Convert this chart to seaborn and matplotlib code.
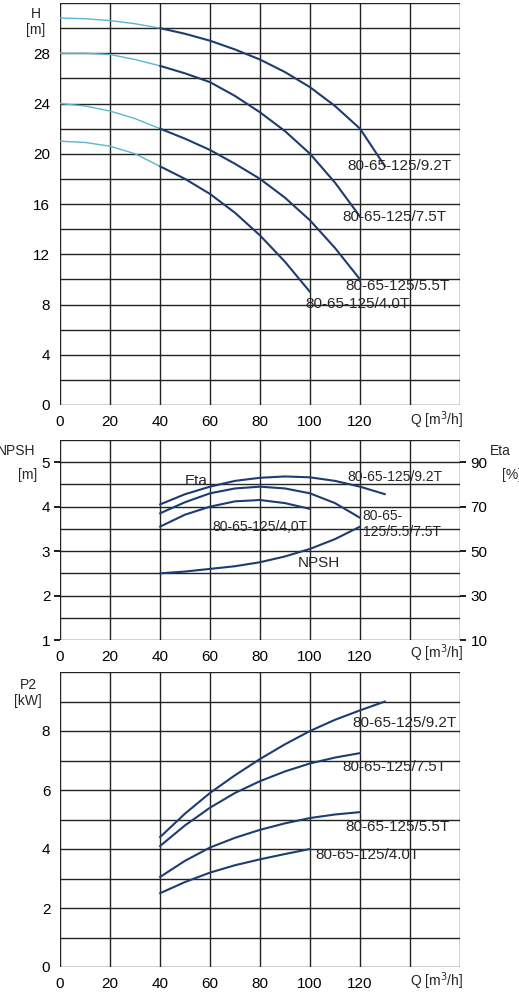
import matplotlib
matplotlib.use("Agg")
import matplotlib.pyplot as plt
import pandas as pd
import seaborn as sns

# Head curves H [m]
q_h = [0, 10, 20, 30, 40, 50, 60, 70, 80, 90, 100, 110, 120, 130]
h_92 = [30.8, 30.75, 30.6, 30.35, 30.0, 29.55, 29.0, 28.3, 27.5, 26.5, 25.3, 23.8, 22.0, 19.0]
q_h75 = [0, 10, 20, 30, 40, 50, 60, 70, 80, 90, 100, 110, 120]
h_75 = [28.0, 28.0, 27.9, 27.5, 27.0, 26.4, 25.7, 24.6, 23.3, 21.8, 20.0, 17.7, 15.0]
h_55 = [24.0, 23.8, 23.4, 22.8, 22.0, 21.2, 20.3, 19.2, 18.0, 16.5, 14.7, 12.5, 10.0]
q_h40 = [0, 10, 20, 30, 40, 50, 60, 70, 80, 90, 100]
h_40 = [21.0, 20.9, 20.6, 20.0, 19.0, 18.0, 16.8, 15.3, 13.5, 11.4, 9.0]

# Eta (on NPSH scale: eta = 10 + (v-1)*20) and NPSH
q_e92 = [40, 50, 60, 70, 80, 90, 100, 110, 120, 130]
eta_92 = [4.05, 4.28, 4.45, 4.58, 4.65, 4.68, 4.66, 4.58, 4.45, 4.28]
q_e75 = [40, 50, 60, 70, 80, 90, 100, 110, 120]
eta_75 = [3.85, 4.1, 4.3, 4.41, 4.45, 4.41, 4.3, 4.08, 3.75]
q_e40 = [40, 50, 60, 70, 80, 90, 100]
eta_40 = [3.55, 3.82, 4.0, 4.12, 4.15, 4.08, 3.95]
q_npsh = [40, 50, 60, 70, 80, 90, 100, 110, 120]
npsh = [2.5, 2.54, 2.6, 2.66, 2.75, 2.88, 3.05, 3.27, 3.55]

# Power P2 [kW]
q_p92 = [40, 50, 60, 70, 80, 90, 100, 110, 120, 130]
p_92 = [4.4, 5.2, 5.9, 6.5, 7.05, 7.55, 8.0, 8.38, 8.7, 9.0]
q_p75 = [40, 50, 60, 70, 80, 90, 100, 110, 120]
p_75 = [4.1, 4.8, 5.4, 5.9, 6.3, 6.63, 6.9, 7.1, 7.25]
p_55 = [3.05, 3.6, 4.05, 4.38, 4.65, 4.87, 5.05, 5.17, 5.25]
q_p40 = [40, 50, 60, 70, 80, 90, 100]
p_40 = [2.5, 2.88, 3.2, 3.45, 3.65, 3.83, 4.0]

NAVY = "#1d3c72"
LIGHT = "#5cb6cf"

sns.set_theme(style="white")
plt.rcParams["font.family"] = ["Liberation Sans", "DejaVu Sans"]

fig = plt.figure(figsize=(5.19, 10), dpi=100)
W = 400 / 519
L = 60 / 519


def grid(ax, ymin, ymax, ystep):
    ax.set_xlim(0, 160)
    for x in range(0, 161, 20):
        ax.axvline(x, color="#222222", lw=1, zorder=1)
    y = ymin
    while y <= ymax + 1e-9:
        ax.axhline(y, color="#222222", lw=1, zorder=1)
        y += ystep
    for s in ax.spines.values():
        s.set_visible(False)
    ax.set_xticks(range(0, 140, 20))
    ax.tick_params(labelsize=11, length=4, colors="black", pad=3)
    ax.text(140, -0.012, "Q [m$^3$/h]", transform=ax.get_xaxis_transform(),
            ha="left", va="top", fontsize=10)


def seg(ax, q, v, split=None):
    df = pd.DataFrame({"q": q, "v": v})
    if split is not None:
        sns.lineplot(data=df[df.q <= split], x="q", y="v", ax=ax, color=LIGHT, lw=1, zorder=3)
        df = df[df.q >= split]
    sns.lineplot(data=df, x="q", y="v", ax=ax, color=NAVY, lw=1.5, zorder=3)
    ax.set_xlabel(""); ax.set_ylabel("")


# Top panel
ax1 = fig.add_axes([L, 0.595, W, 0.402])
ax1.set_ylim(0, 32)
grid(ax1, 0, 32, 2)
ax1.set_yticks(range(0, 29, 4))
seg(ax1, q_h, h_92, 40)
seg(ax1, q_h75, h_75, 40)
seg(ax1, q_h75, h_55, 40)
seg(ax1, q_h40, h_40, 40)
ax1.text(-0.06, 0.99, "H\n[m]", transform=ax1.transAxes, ha="center", va="top", fontsize=10)
for x, y, t in [(115, 18.5, "80-65-125/9.2T"), (113, 14.4, "80-65-125/7.5T"),
                (114, 8.9, "80-65-125/5.5T"), (98, 7.5, "80-65-125/4.0T")]:
    ax1.text(x, y, t, fontsize=11, va="bottom")

# Middle panel
ax2 = fig.add_axes([L, 0.36, W, 0.2])
grid(ax2, 1, 5.5, 0.5)
ax2.set_ylim(1, 5.5)
ax2.set_yticks([1, 2, 3, 4, 5])
seg(ax2, q_e92, eta_92)
seg(ax2, q_e75, eta_75)
seg(ax2, q_e40, eta_40)
seg(ax2, q_npsh, npsh)
axr = ax2.twinx()
axr.set_ylim(1, 5.5)
axr.set_yticks([1, 2, 3, 4, 5])
axr.set_yticklabels(["10", "30", "50", "70", "90"])
axr.tick_params(labelsize=11, length=4, colors="black")
for s in axr.spines.values():
    s.set_visible(False)
ax2.text(-0.11, 0.98, "NPSH", transform=ax2.transAxes, ha="center", va="top", fontsize=10)
ax2.text(-0.08, 0.86, "[m]", transform=ax2.transAxes, ha="center", va="top", fontsize=10)
ax2.text(1.1, 0.98, "Eta", transform=ax2.transAxes, ha="center", va="top", fontsize=10)
ax2.text(1.13, 0.86, "[%]", transform=ax2.transAxes, ha="center", va="top", fontsize=10)
ax2.text(50, 4.48, "Eta", fontsize=11)
ax2.text(95, 2.65, "NPSH", fontsize=11)
ax2.text(115, 4.58, "80-65-125/9.2T", fontsize=10)
ax2.text(61, 3.45, "80-65-125/4,0T", fontsize=10)
ax2.text(121, 3.35, "80-65-\n125/5.5/7.5T", fontsize=10, linespacing=1.1)

# Bottom panel
ax3 = fig.add_axes([L, 0.033, W, 0.295])
ax3.set_ylim(0, 10)
grid(ax3, 0, 10, 1)
ax3.set_yticks(range(0, 9, 2))
seg(ax3, q_p92, p_92)
seg(ax3, q_p75, p_75)
seg(ax3, q_p75, p_55)
seg(ax3, q_p40, p_40)
ax3.text(-0.08, 0.98, "P2\n[kW]", transform=ax3.transAxes, ha="center", va="top", fontsize=10)
for x, y, t in [(117, 8.05, "80-65-125/9.2T"), (113, 6.55, "80-65-125/7.5T"),
                (114, 4.5, "80-65-125/5.5T"), (102, 3.55, "80-65-125/4.0T")]:
    ax3.text(x, y, t, fontsize=11, va="bottom")

fig.savefig("out.png", dpi=100)
